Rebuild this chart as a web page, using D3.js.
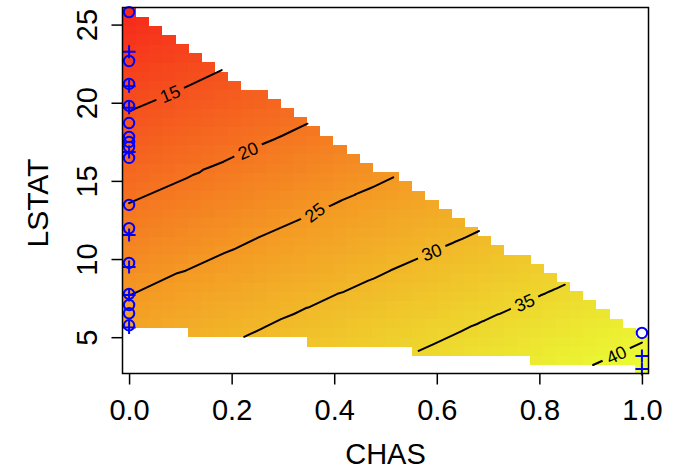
<!DOCTYPE html>
<html>
<head>
<meta charset="utf-8">
<script src="https://cdn.jsdelivr.net/npm/d3@7"></script>
<style>
  body { margin: 0; background: #fff; }
  text { font-family: "Liberation Sans", Arial, sans-serif; }
</style>
</head>
<body>
<div id="chart-area"></div>
<script>

let width = 674,
    height = 470;

let chas  = [0, 0, 0, 0, 0, 0, 0, 0, 0, 0, 0, 0, 0, 0, 0, 0, 0, 0, 0, 0, 0, 0, 0, 0, 1, 1, 1];
let lstat = [25.8, 23.26, 22.67, 21.2, 21.05, 19.8, 19.68, 18.7, 17.81, 17.49, 17.17, 16.85, 16.47,
             13.46, 11.97, 11.54, 9.75, 9.49, 7.77, 7.7, 7.06, 6.53, 5.76, 5.62, 5.27, 3.8, 2.97];
let resp  = [9.6, 11.7, 12.2, 13.5, 13.6, 14.7, 14.8, 15.6, 16.4, 16.7, 16.9, 17.2, 17.5,
             20.1, 21.3, 21.7, 23.2, 23.5, 24.9, 25.0, 25.5, 26.0, 26.6, 26.7, 39.5, 40.7, 41.4];
let pch   = ["o", "+", "o", "o", "+", "o", "+", "o", "o", "o", "o", "+", "o",
             "o", "o", "+", "o", "+", "o", "+", "o", "o", "o", "+", "o", "+", "+"];

let levels = [15, 20, 25, 30, 35, 40];
let labelAt = [0.08, 0.232, 0.362, 0.59, 0.771, 0.95];   // CHAS where each contour label sits

let xTicks = [0, 0.2, 0.4, 0.6, 0.8, 1.0];
let yTicks = [5, 10, 15, 20, 25];

let svg = d3.select("#chart-area").append("svg")
    .attr("width", width)
    .attr("height", height);

// 40 x 40 grid over the data range
let n = 40;
let xMin = d3.min(chas), xMax = d3.max(chas);
let yMin = d3.min(lstat), yMax = d3.max(lstat);
let dx = (xMax - xMin) / (n - 1), dy = (yMax - yMin) / (n - 1);
let gx = d3.range(n).map(i => xMin + i * dx);
let gy = d3.range(n).map(j => yMin + j * dy);

let x = d3.scaleLinear().domain([xMin - dx / 2, xMax + dx / 2]).range([122.5, 648.5]);
let y = d3.scaleLinear().domain([yMin - dy / 2, yMax + dy / 2]).range([373.5, 7.5]);

let color = d3.scaleLinear()
    .domain([d3.min(resp), (d3.min(resp) + d3.max(resp)) / 2, d3.max(resp)])
    .range(["rgb(246,42,26)", "rgb(244,156,36)", "rgb(234,254,52)"]);

// linear interpolation over the delaunay triangles (NA outside the hull)
let pts = chas.map((c, i) => [c, lstat[i]]);
let del = d3.Delaunay.from(pts);
let tris = [];
for (let t = 0; t < del.triangles.length; t += 3)
  tris.push([del.triangles[t], del.triangles[t + 1], del.triangles[t + 2]]);

function interp(px, py) {
  for (let [a, b, c] of tris) {
    let [x1, y1] = pts[a], [x2, y2] = pts[b], [x3, y3] = pts[c];
    let det = (y2 - y3) * (x1 - x3) + (x3 - x2) * (y1 - y3);
    let l1 = ((y2 - y3) * (px - x3) + (x3 - x2) * (py - y3)) / det;
    let l2 = ((y3 - y1) * (px - x3) + (x1 - x3) * (py - y3)) / det;
    let l3 = 1 - l1 - l2;
    if (l1 >= -1e-9 && l2 >= -1e-9 && l3 >= -1e-9)
      return l1 * resp[a] + l2 * resp[b] + l3 * resp[c];
  }
  return NaN;
}

let z = gx.map(gxv => gy.map(gyv => interp(gxv, gyv)));

let cells = [];
gx.forEach((gxv, i) => gy.forEach((gyv, j) => {
  if (!isNaN(z[i][j])) cells.push({ cx: gxv, cy: gyv, v: z[i][j] });
}));

// image
svg.append("g").selectAll("rect")
    .data(cells)
    .enter().append("rect")
    .attr("x", d => x(d.cx - dx / 2))
    .attr("y", d => y(d.cy + dy / 2))
    .attr("width", x(dx) - x(0) + 0.5)
    .attr("height", y(0) - y(dy) + 0.5)
    .attr("fill", d => color(d.v))
    .attr("shape-rendering", "crispEdges");

// contour segments straight from the triangles
function crossSeg(tri, L) {
  let out = [];
  for (let k = 0; k < 3; k++) {
    let p = tri[k], q = tri[(k + 1) % 3];
    if ((p[2] >= L) !== (q[2] >= L)) {
      let t = (L - p[2]) / (q[2] - p[2]);
      out.push([p[0] + t * (q[0] - p[0]), p[1] + t * (q[1] - p[1])]);
    }
  }
  return out.length === 2 ? out : null;
}

let contourSegs = levels.map(L => {
  let segs = [];
  tris.forEach(tr => {
    let s = crossSeg(tr.map(i => [chas[i], lstat[i], resp[i]]), L);
    if (s) segs.push(s);
  });
  return segs;
});

// label positions along each contour
let labels = levels.map((L, k) => {
  let segs = contourSegs[k];
  let lx = labelAt[k];
  let s = segs.find(s => (s[0][0] - lx) * (s[1][0] - lx) <= 0 && s[0][0] !== s[1][0]) || segs[0];
  let t = (lx - s[0][0]) / (s[1][0] - s[0][0]);
  let ly = s[0][1] + t * (s[1][1] - s[0][1]);
  let ang = Math.atan2(y(s[1][1]) - y(s[0][1]), x(s[1][0]) - x(s[0][0])) * 180 / Math.PI;
  if (ang > 90) ang -= 180;
  if (ang < -90) ang += 180;
  return { text: String(L), px: x(lx), py: y(ly), ang: ang };
});

let defs = svg.append("defs");
let mask = defs.append("mask").attr("id", "gaps").attr("maskUnits", "userSpaceOnUse")
    .attr("x", 0).attr("y", 0).attr("width", width).attr("height", height);
mask.append("rect").attr("width", width).attr("height", height).attr("fill", "white");
mask.selectAll(".gap")
    .data(labels)
    .enter().append("rect")
    .attr("x", -15).attr("y", -8).attr("width", 30).attr("height", 16)
    .attr("fill", "black")
    .attr("transform", d => `translate(${d.px},${d.py}) rotate(${d.ang})`);

svg.append("g").attr("mask", "url(#gaps)")
  .selectAll("path")
    .data(contourSegs)
    .enter().append("path")
    .attr("d", segs => segs.map(s => `M${x(s[0][0])},${y(s[0][1])}L${x(s[1][0])},${y(s[1][1])}`).join(""))
    .attr("fill", "none")
    .attr("stroke", "#000")
    .attr("stroke-width", 2)
    .attr("stroke-linecap", "round");

svg.append("g").selectAll("text")
    .data(labels)
    .enter().append("text")
    .attr("transform", d => `translate(${d.px},${d.py}) rotate(${d.ang})`)
    .attr("text-anchor", "middle")
    .attr("dy", "0.36em")
    .style("font-size", "18px")
    .text(d => d.text);

// points
let pdata = chas.map((c, i) => ({ c: c, l: lstat[i], s: pch[i] }));
svg.append("g").selectAll("circle")
    .data(pdata.filter(d => d.s === "o"))
    .enter().append("circle")
    .attr("cx", d => x(d.c))
    .attr("cy", d => y(d.l))
    .attr("r", 5.2)
    .attr("fill", "none")
    .attr("stroke", "blue")
    .attr("stroke-width", 2);

svg.append("g").selectAll("path")
    .data(pdata.filter(d => d.s === "+"))
    .enter().append("path")
    .attr("d", d => {
      let cx = x(d.c), cy = y(d.l);
      return `M${cx - 6.5},${cy}H${cx + 6.5}M${cx},${cy - 6.5}V${cy + 6.5}`;
    })
    .attr("stroke", "blue")
    .attr("stroke-width", 2);

// box
svg.append("rect")
    .attr("x", 122.5).attr("y", 7.5)
    .attr("width", 526).attr("height", 366)
    .attr("fill", "none")
    .attr("stroke", "#000")
    .attr("stroke-width", 1.5);

// axes
let xAxis = svg.append("g")
    .attr("transform", "translate(0,373.5)")
    .call(d3.axisBottom(x).tickValues(xTicks).tickFormat(d3.format(".1f")).tickSize(11).tickPadding(15));
xAxis.select(".domain").remove();

let yAxis = svg.append("g")
    .attr("transform", "translate(122.5,0)")
    .call(d3.axisLeft(y).tickValues(yTicks).tickSize(11));
yAxis.select(".domain").remove();
yAxis.selectAll("text")
    .attr("transform", "rotate(-90)")
    .attr("x", 0).attr("y", -25.5).attr("dy", 0)
    .attr("text-anchor", "middle");

svg.selectAll(".tick line").attr("stroke", "#000").attr("stroke-width", 1.5);
svg.selectAll(".tick text")
    .attr("fill", "#000")
    .style("font-family", "'Liberation Sans', Arial, sans-serif")
    .style("font-size", "29px");

svg.append("text")
    .attr("x", 385.5).attr("y", 464)
    .attr("text-anchor", "middle")
    .style("font-size", "29px")
    .text("CHAS");

svg.append("text")
    .attr("transform", "translate(48,203) rotate(-90)")
    .attr("text-anchor", "middle")
    .style("font-size", "30px")
    .text("LSTAT");

</script>
</body>
</html>
